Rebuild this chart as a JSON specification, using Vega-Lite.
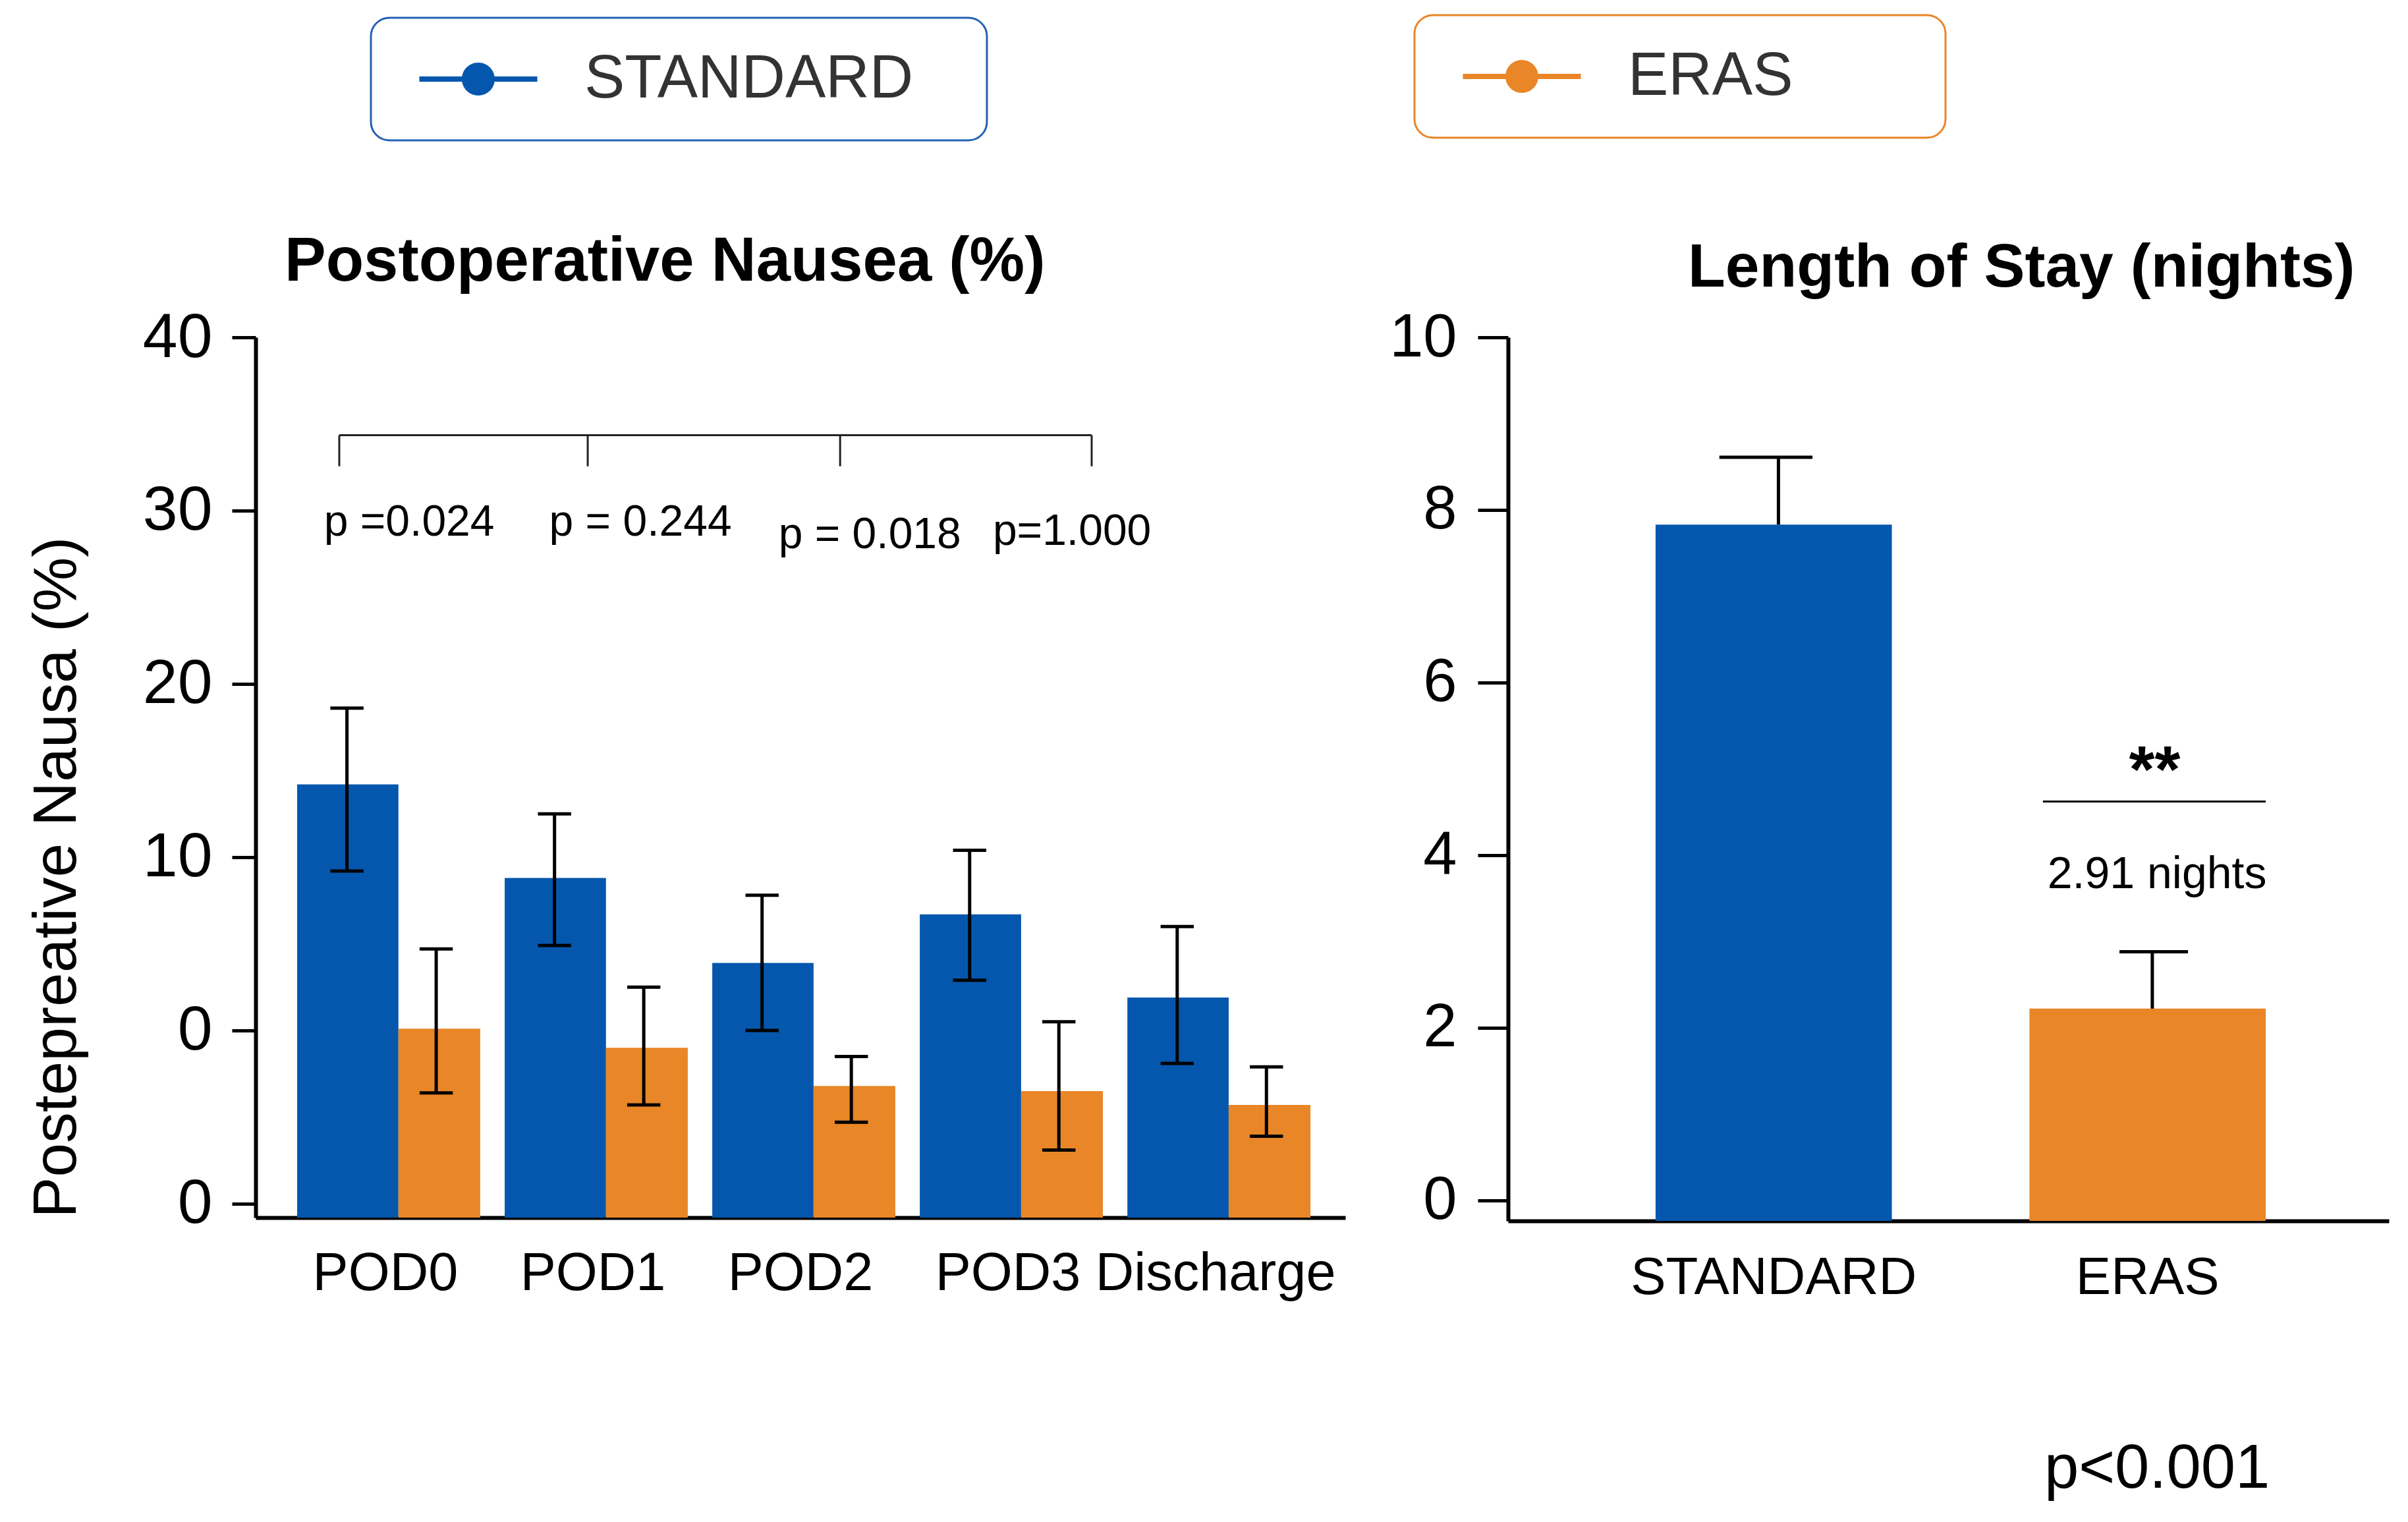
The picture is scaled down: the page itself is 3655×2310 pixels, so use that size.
{
  "$schema": "https://vega.github.io/schema/vega-lite/v6.json",
  "background": "white",
  "padding": {"left": 40, "top": 21, "right": 20, "bottom": 20},
  "datasets": {
    "nausea": [
      {"day": "POD0", "group": "STANDARD", "mean": 14.2, "lo": 9.2, "hi": 18.6},
      {"day": "POD0", "group": "ERAS", "mean": 0.1, "lo": -3.6, "hi": 4.7},
      {"day": "POD1", "group": "STANDARD", "mean": 8.8, "lo": 4.9, "hi": 12.5},
      {"day": "POD1", "group": "ERAS", "mean": -1.0, "lo": -4.3, "hi": 2.5},
      {"day": "POD2", "group": "STANDARD", "mean": 3.9, "lo": 0.0, "hi": 7.8},
      {"day": "POD2", "group": "ERAS", "mean": -3.2, "lo": -5.3, "hi": -1.5},
      {"day": "POD3", "group": "STANDARD", "mean": 6.7, "lo": 2.9, "hi": 10.4},
      {"day": "POD3", "group": "ERAS", "mean": -3.5, "lo": -6.9, "hi": 0.5},
      {"day": "Discharge", "group": "STANDARD", "mean": 1.9, "lo": -1.9, "hi": 6.0},
      {"day": "Discharge", "group": "ERAS", "mean": -4.3, "lo": -6.1, "hi": -2.1}
    ],
    "bracketTicks": [
      {"pos": 0.278}, {"pos": 1.475}, {"pos": 2.691}, {"pos": 3.903}
    ],
    "pvals": [
      {"label": "p =0.024", "pos": 0.615, "y": 29.3},
      {"label": "p = 0.244", "pos": 1.729, "y": 29.3},
      {"label": "p = 0.018", "pos": 2.834, "y": 28.6},
      {"label": "p=1.000", "pos": 3.808, "y": 28.8}
    ],
    "stay": [
      {"group": "STANDARD", "mean": 7.83, "hi": 8.61},
      {"group": "ERAS", "mean": 2.22, "hi": 2.88}
    ]
  },
  "spacing": 66,
  "hconcat": [
    {
      "width": 1654,
      "height": 1336,
      "title": {
        "text": "Postoperative Nausea (%)",
        "anchor": "start",
        "frame": "group",
        "dx": 44,
        "offset": -55,
        "baseline": "alphabetic",
        "fontSize": 94,
        "fontWeight": "bold",
        "color": "black"
      },
      "resolve": {"scale": {"x": "independent"}},
      "layer": [
        {
          "data": {"name": "nausea"},
          "layer": [
            {
              "transform": [{"filter": "datum.group === 'STANDARD'"}],
              "mark": {"type": "bar"},
              "encoding": {
                "x": {
                  "field": "day",
                  "type": "nominal",
                  "bandPosition": 0.075,
                  "scale": {
                    "type": "band",
                    "domain": ["POD0", "POD1", "POD2", "POD3", "Discharge"],
                    "paddingInner": 0,
                    "paddingOuter": 0.125
                  },
                  "axis": {
                    "title": null,
                    "labelAngle": 0,
                    "labelFontSize": 81,
                    "labelPadding": 45,
                    "labelLimit": 1000,
                    "labelColor": "black",
                    "ticks": false,
                    "tickSize": 0,
                    "domainWidth": 6,
                    "domainColor": "black"
                  }
                },
                "x2": {"field": "day", "bandPosition": 0.563},
                "y": {
                  "field": "mean",
                  "type": "quantitative",
                  "scale": {"domain": [-10.8, 40], "nice": false, "zero": false},
                  "axis": {
                    "title": "Postepreative Nausa (%)",
                    "titleFontSize": 93,
                    "titleFontWeight": "normal",
                    "titleColor": "black",
                    "titleAnchor": "start",
                    "titlePadding": 82,
                    "values": [-10, 0, 10, 20, 30, 40],
                    "labelExpr": "datum.value == -10 ? '0' : datum.label",
                    "labelFontSize": 95,
                    "labelPadding": 30,
                    "labelColor": "black",
                    "tickSize": 36,
                    "tickWidth": 5,
                    "tickColor": "black",
                    "domainWidth": 6,
                    "domainColor": "black",
                    "grid": false
                  }
                },
                "y2": {"datum": -10.8},
                "fill": {
                  "field": "group",
                  "type": "nominal",
                  "scale": {"domain": ["STANDARD"], "range": ["#0457ad"]},
                  "legend": {
                    "title": null,
                    "orient": "none",
                    "legendX": 175,
                    "legendY": -485,
                    "symbolType": "M-1.946,-0.087H1.946V0.087H-1.946Z M0.543,0A0.543,0.543,0,1,1,-0.543,0A0.543,0.543,0,1,1,0.543,0Z",
                    "symbolSize": 8464,
                    "symbolOffset": 70,
                    "symbolStrokeWidth": 0,
                    "labelOffset": 115,
                    "labelExpr": "datum.label + '\u2002\u2009\u200b'",
                    "labelFontSize": 92,
                    "labelColor": "#333333",
                    "labelLimit": 1200,
                    "padding": 47,
                    "cornerRadius": 28,
                    "strokeColor": "#2461b6",
                    "fillColor": "white",
                    "encode": {"legend": {"update": {"strokeWidth": {"value": 3}}}}
                  }
                }
              }
            },
            {
              "transform": [{"filter": "datum.group === 'ERAS'"}],
              "mark": {"type": "bar"},
              "encoding": {
                "x": {"field": "day", "type": "nominal", "bandPosition": 0.563},
                "x2": {"field": "day", "bandPosition": 0.957},
                "y": {"field": "mean", "type": "quantitative"},
                "y2": {"datum": -10.8},
                "color": {
                  "field": "group",
                  "type": "nominal",
                  "scale": {"domain": ["ERAS"], "range": ["#e98627"]},
                  "legend": {
                    "title": null,
                    "orient": "none",
                    "legendX": 1759,
                    "legendY": -489,
                    "symbolType": "M-1.946,-0.087H1.946V0.087H-1.946Z M0.543,0A0.543,0.543,0,1,1,-0.543,0A0.543,0.543,0,1,1,0.543,0Z",
                    "symbolSize": 8464,
                    "symbolOffset": 70,
                    "symbolStrokeWidth": 0,
                    "labelOffset": 115,
                    "labelExpr": "datum.label + '\u2003\u2003\u200b'",
                    "labelFontSize": 92,
                    "labelColor": "#333333",
                    "labelLimit": 1200,
                    "padding": 47,
                    "cornerRadius": 28,
                    "strokeColor": "#e98627",
                    "fillColor": "white",
                    "encode": {"legend": {"update": {"strokeWidth": {"value": 3}}}}
                  }
                }
              }
            },
            {
              "transform": [{"filter": "datum.group === 'STANDARD'"}],
              "mark": {"type": "rule", "color": "black", "strokeWidth": 5},
              "encoding": {
                "x": {"field": "day", "type": "nominal", "bandPosition": 0.315},
                "y": {"field": "lo", "type": "quantitative"},
                "y2": {"field": "hi"}
              }
            },
            {
              "transform": [{"filter": "datum.group === 'STANDARD'"}],
              "mark": {"type": "rule", "color": "black", "strokeWidth": 5},
              "encoding": {
                "x": {"field": "day", "type": "nominal", "bandPosition": 0.235},
                "x2": {"field": "day", "bandPosition": 0.395},
                "y": {"field": "hi", "type": "quantitative"}
              }
            },
            {
              "transform": [{"filter": "datum.group === 'STANDARD'"}],
              "mark": {"type": "rule", "color": "black", "strokeWidth": 5},
              "encoding": {
                "x": {"field": "day", "type": "nominal", "bandPosition": 0.235},
                "x2": {"field": "day", "bandPosition": 0.395},
                "y": {"field": "lo", "type": "quantitative"}
              }
            },
            {
              "transform": [{"filter": "datum.group === 'ERAS'"}],
              "mark": {"type": "rule", "color": "black", "strokeWidth": 5},
              "encoding": {
                "x": {"field": "day", "type": "nominal", "bandPosition": 0.745},
                "y": {"field": "lo", "type": "quantitative"},
                "y2": {"field": "hi"}
              }
            },
            {
              "transform": [{"filter": "datum.group === 'ERAS'"}],
              "mark": {"type": "rule", "color": "black", "strokeWidth": 5},
              "encoding": {
                "x": {"field": "day", "type": "nominal", "bandPosition": 0.665},
                "x2": {"field": "day", "bandPosition": 0.825},
                "y": {"field": "hi", "type": "quantitative"}
              }
            },
            {
              "transform": [{"filter": "datum.group === 'ERAS'"}],
              "mark": {"type": "rule", "color": "black", "strokeWidth": 5},
              "encoding": {
                "x": {"field": "day", "type": "nominal", "bandPosition": 0.665},
                "x2": {"field": "day", "bandPosition": 0.825},
                "y": {"field": "lo", "type": "quantitative"}
              }
            }
          ]
        },
        {
          "layer": [
            {
              "data": {"name": "bracketTicks"},
              "mark": {"type": "rule", "color": "#222222", "strokeWidth": 3},
              "encoding": {
                "x": {
                  "aggregate": "min",
                  "field": "pos",
                  "type": "quantitative",
                  "scale": {"domain": [-0.125, 5.125], "nice": false, "zero": false},
                  "axis": null
                },
                "x2": {"aggregate": "max", "field": "pos"},
                "y": {"datum": 34.35}
              }
            },
            {
              "data": {"name": "bracketTicks"},
              "mark": {"type": "rule", "color": "#222222", "strokeWidth": 3},
              "encoding": {
                "x": {"field": "pos", "type": "quantitative"},
                "y": {"datum": 34.35},
                "y2": {"datum": 32.56}
              }
            },
            {
              "data": {"name": "pvals"},
              "mark": {"type": "text", "fontSize": 66, "align": "center", "baseline": "middle", "color": "black"},
              "encoding": {
                "x": {"field": "pos", "type": "quantitative"},
                "y": {"field": "y", "type": "quantitative"},
                "text": {"field": "label"}
              }
            }
          ]
        }
      ]
    },
    {
      "width": 1337,
      "height": 1341,
      "title": {
        "text": "Length of Stay (nights)",
        "anchor": "start",
        "frame": "group",
        "dx": 273,
        "offset": -62,
        "baseline": "alphabetic",
        "fontSize": 93,
        "fontWeight": "bold",
        "color": "black"
      },
      "layer": [
        {
          "data": {"name": "stay"},
          "transform": [{"filter": "datum.group === 'STANDARD'"}],
          "mark": {"type": "bar"},
          "encoding": {
            "x": {
              "field": "group",
              "type": "nominal",
              "scale": {
                "type": "band",
                "domain": ["STANDARD", "ERAS"],
                "paddingInner": 0.368,
                "paddingOuter": 0.362,
                "align": 0.545
              },
              "axis": {
                "title": null,
                "labelAngle": 0,
                "labelFontSize": 80,
                "labelPadding": 47,
                "labelLimit": 1000,
                "labelColor": "black",
                "ticks": false,
                "tickSize": 0,
                "domainWidth": 6,
                "domainColor": "black"
              }
            },
            "y": {
              "field": "mean",
              "type": "quantitative",
              "scale": {"domain": [-0.24, 10], "nice": false, "zero": false},
              "axis": {
                "title": null,
                "values": [0, 2, 4, 6, 8, 10],
                "format": "d",
                "labelFontSize": 92,
                "labelPadding": 32,
                "labelColor": "black",
                "tickSize": 46,
                "tickWidth": 5,
                "tickColor": "black",
                "domainWidth": 6,
                "domainColor": "black",
                "grid": false
              }
            },
            "y2": {"datum": -0.24},
            "fill": {
              "field": "group",
              "type": "nominal",
              "scale": {"domain": ["STANDARD"], "range": ["#0457ad"]},
              "legend": {
                "title": null,
                "orient": "none",
                "legendX": 175,
                "legendY": -485,
                "symbolType": "M-1.946,-0.087H1.946V0.087H-1.946Z M0.543,0A0.543,0.543,0,1,1,-0.543,0A0.543,0.543,0,1,1,0.543,0Z",
                "symbolSize": 8464,
                "symbolOffset": 70,
                "symbolStrokeWidth": 0,
                "labelOffset": 115,
                "labelExpr": "datum.label + '\u2002\u2009\u200b'",
                "labelFontSize": 92,
                "labelColor": "#333333",
                "labelLimit": 1200,
                "padding": 47,
                "cornerRadius": 28,
                "strokeColor": "#2461b6",
                "fillColor": "white",
                "encode": {"legend": {"update": {"strokeWidth": {"value": 3}}}}
              }
            }
          }
        },
        {
          "data": {"name": "stay"},
          "transform": [{"filter": "datum.group === 'ERAS'"}],
          "mark": {"type": "bar"},
          "encoding": {
            "x": {"field": "group", "type": "nominal"},
            "y": {"field": "mean", "type": "quantitative"},
            "y2": {"datum": -0.24},
            "color": {
              "field": "group",
              "type": "nominal",
              "scale": {"domain": ["ERAS"], "range": ["#e98627"]},
              "legend": {
                "title": null,
                "orient": "none",
                "legendX": 1759,
                "legendY": -489,
                "symbolType": "M-1.946,-0.087H1.946V0.087H-1.946Z M0.543,0A0.543,0.543,0,1,1,-0.543,0A0.543,0.543,0,1,1,0.543,0Z",
                "symbolSize": 8464,
                "symbolOffset": 70,
                "symbolStrokeWidth": 0,
                "labelOffset": 115,
                "labelExpr": "datum.label + '\u2003\u2003\u200b'",
                "labelFontSize": 92,
                "labelColor": "#333333",
                "labelLimit": 1200,
                "padding": 47,
                "cornerRadius": 28,
                "strokeColor": "#e98627",
                "fillColor": "white",
                "encode": {"legend": {"update": {"strokeWidth": {"value": 3}}}}
              }
            }
          }
        },
        {
          "data": {"name": "stay"},
          "mark": {"type": "rule", "color": "black", "strokeWidth": 5},
          "encoding": {
            "x": {"field": "group", "type": "nominal", "bandPosition": 0.52},
            "y": {"field": "mean", "type": "quantitative"},
            "y2": {"field": "hi"}
          }
        },
        {
          "data": {"name": "stay"},
          "transform": [{"filter": "datum.group === 'STANDARD'"}],
          "mark": {"type": "rule", "color": "black", "strokeWidth": 5},
          "encoding": {
            "x": {"field": "group", "type": "nominal", "bandPosition": 0.27},
            "x2": {"field": "group", "bandPosition": 0.664},
            "y": {"field": "hi", "type": "quantitative"}
          }
        },
        {
          "data": {"name": "stay"},
          "transform": [{"filter": "datum.group === 'ERAS'"}],
          "mark": {"type": "rule", "color": "black", "strokeWidth": 5},
          "encoding": {
            "x": {"field": "group", "type": "nominal", "bandPosition": 0.381},
            "x2": {"field": "group", "bandPosition": 0.671},
            "y": {"field": "hi", "type": "quantitative"}
          }
        },
        {
          "data": {"values": [{"group": "ERAS", "y": 4.62}]},
          "mark": {"type": "rule", "color": "black", "strokeWidth": 3},
          "encoding": {
            "x": {"field": "group", "type": "nominal", "bandPosition": 0.057},
            "x2": {"field": "group", "bandPosition": 1.0},
            "y": {"field": "y", "type": "quantitative"}
          }
        },
        {
          "data": {"values": [{"group": "ERAS", "y": 4.96, "label": "**"}]},
          "mark": {"type": "text", "fontSize": 100, "fontWeight": "bold", "align": "center", "baseline": "middle", "color": "black"},
          "encoding": {
            "x": {"field": "group", "type": "nominal", "bandPosition": 0.53},
            "y": {"field": "y", "type": "quantitative"},
            "text": {"field": "label"}
          }
        },
        {
          "data": {"values": [{"group": "ERAS", "y": 3.77, "label": "2.91 nights"}]},
          "mark": {"type": "text", "fontSize": 68, "align": "center", "baseline": "middle", "color": "black"},
          "encoding": {
            "x": {"field": "group", "type": "nominal", "bandPosition": 0.54},
            "y": {"field": "y", "type": "quantitative"},
            "text": {"field": "label"}
          }
        },
        {
          "data": {"values": [{"group": "ERAS", "y": -3.12, "label": "p<0.001"}]},
          "mark": {"type": "text", "fontSize": 94, "align": "center", "baseline": "middle", "color": "black"},
          "encoding": {
            "x": {"field": "group", "type": "nominal", "bandPosition": 0.54},
            "y": {"field": "y", "type": "quantitative"},
            "text": {"field": "label"}
          }
        }
      ]
    }
  ],
  "config": {
    "font": "Liberation Sans",
    "view": {"stroke": null},
    "axis": {"grid": false}
  }
}
